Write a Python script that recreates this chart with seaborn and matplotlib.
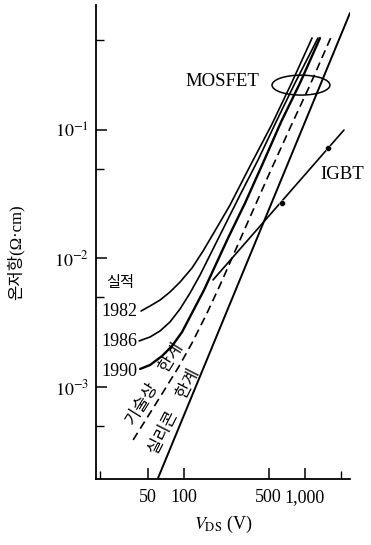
import numpy as np
import pandas as pd
import seaborn as sns
import matplotlib.pyplot as plt
from matplotlib.patches import Ellipse
from matplotlib.ticker import FixedLocator, NullFormatter

# Data (V_DS in V, on-resistance in ohm*cm)
vds_1982 = [44.1, 52.4, 63.4, 76.6, 92.7, 116.4, 143.6, 183.9, 240.0, 351.2, 533.6, 781, 1143]
ron_1982 = [3.90e-3, 4.27e-3, 4.75e-3, 5.49e-3, 6.56e-3, 8.44e-3, 0.01144, 0.01697, 0.0261,
            0.0525, 0.1113, 0.2363, 0.520]

vds_1986 = [42.5, 52.4, 63.4, 76.6, 92.7, 112.1, 135.6, 164.0, 206.1, 290.3, 409, 575.8, 826.6, 1280]
ron_1986 = [2.28e-3, 2.45e-3, 2.73e-3, 3.21e-3, 4.05e-3, 5.39e-3, 7.44e-3, 0.01065, 0.01637,
            0.0312, 0.0585, 0.1154, 0.2322, 0.520]

vds_1990 = [43.3, 52.4, 65.8, 79.6, 96.3, 116.4, 146.3, 183.9, 231.0, 319.2, 449.6, 633.4, 909, 1330]
ron_1990 = [1.38e-3, 1.483e-3, 1.742e-3, 2.085e-3, 2.68e-3, 3.77e-3, 5.69e-3, 9.06e-3, 0.01443,
            0.0270, 0.0554, 0.1154, 0.2322, 0.520]

# technology limit (dashed)
vds_tech = [37.9, 52.4, 69.6, 89.2, 116.4, 155.0, 198.6, 249.2, 351.2, 513.7, 751.6, 1099.8, 1670]
ron_tech = [3.87e-4, 6.28e-4, 9.65e-4, 1.406e-3, 2.20e-3, 3.77e-3, 6.22e-3, 0.01009, 0.02104,
            0.0471, 0.1036, 0.224, 0.5486]

# silicon limit
vds_si = [61, 2355]
ron_si = [1.96e-4, 0.815]

# IGBT
vds_igbt = [173.6, 2099]
ron_igbt = [6.81e-3, 0.1]
vds_igbt_pts = [645, 1549]
ron_igbt_pts = [0.027, 0.0724]

x_ticks = [50, 100, 500, 1000]
x_labels = ['50', '100', '500', '1,000']
y_ticks = [1e-3, 1e-2, 1e-1]
y_labels = ['$10^{-3}$', '$10^{-2}$', '$10^{-1}$']

sns.set_theme(style='ticks')
plt.rcParams['font.family'] = ['Liberation Serif', 'Noto Sans CJK KR']
plt.rcParams['mathtext.fontset'] = 'stix'
plt.rcParams['text.color'] = 'black'
plt.rcParams['axes.labelcolor'] = 'black'

fig = plt.figure(figsize=(3.71, 5.45), dpi=100)
ax = fig.add_axes([0.2588, 0.1211, 0.6846, 0.8697])
ax.set_xscale('log')
ax.set_yscale('log')

kw = dict(color='black', sort=False, estimator=None, ax=ax, legend=False)
sns.lineplot(x=vds_1982, y=ron_1982, lw=1.2, **kw)
sns.lineplot(x=vds_1986, y=ron_1986, lw=1.2, **kw)
sns.lineplot(x=vds_1990, y=ron_1990, lw=1.7, **kw)
sns.lineplot(x=vds_tech, y=ron_tech, lw=1.2, linestyle=(0, (5, 3)), **kw)
sns.lineplot(x=vds_si, y=ron_si, lw=1.4, **kw)
sns.lineplot(x=vds_igbt, y=ron_igbt, lw=1.2, **kw)
sns.scatterplot(x=vds_igbt_pts, y=ron_igbt_pts, color='black', s=18, ax=ax, legend=False, zorder=5)

ax.set_xlim(18.7, 2355)
ax.set_ylim(1.92e-4, 0.94)

ax.xaxis.set_major_locator(FixedLocator(x_ticks))
ax.set_xticklabels(x_labels)
ax.xaxis.set_minor_locator(FixedLocator([20, 2000]))
ax.xaxis.set_minor_formatter(NullFormatter())
ax.yaxis.set_major_locator(FixedLocator(y_ticks))
ax.set_yticklabels(y_labels)
ax.yaxis.set_minor_locator(FixedLocator([5e-4, 5e-3, 5e-2, 5e-1]))
ax.yaxis.set_minor_formatter(NullFormatter())

ax.tick_params(axis='both', which='major', direction='in', length=8, width=1.1,
               labelsize=13, color='black', labelcolor='black')
ax.tick_params(axis='both', which='minor', direction='in', length=6, width=1.0, color='black')
ax.tick_params(axis='x', which='major', pad=7)
ax.tick_params(axis='y', which='major', pad=5)
sns.despine(ax=ax)
for s in ['left', 'bottom']:
    ax.spines[s].set_linewidth(1.3)
    ax.spines[s].set_color('black')

ax.set_xlabel('$V_{\\mathrm{DS}}$ (V)', fontsize=13, labelpad=6)
ax.set_ylabel('온저항(Ω·cm)', fontsize=12)
ax.yaxis.set_label_coords(-0.283, 0.479)

# curve labels
ax.text(29.6, 6.44e-3, '실적', fontsize=11, ha='center', va='center')
ax.text(29.0, 3.9e-3, '1982', fontsize=13, ha='center', va='center')
ax.text(29.0, 2.24e-3, '1986', fontsize=13, ha='center', va='center')
ax.text(29.0, 1.33e-3, '1990', fontsize=13, ha='center', va='center')
ax.text(57.6, 1.04e-3, '기술상\u3000한계', fontsize=12, ha='center', va='center',
        rotation=58, rotation_mode='anchor')
ax.text(84.3, 6.38e-4, '실리콘\u3000한계', fontsize=12, ha='center', va='center',
        rotation=63, rotation_mode='anchor')
ax.text(206, 0.237, 'MOSFET', fontsize=13.5, ha='center', va='center')
ax.text(2023, 0.0447, 'IGBT', fontsize=13.5, ha='center', va='center', clip_on=False)

ax.add_patch(Ellipse((0.807, 0.831), 0.228, 0.042, transform=ax.transAxes,
                     fill=False, edgecolor='black', lw=1.1))

fig.savefig('out.png', dpi=100)
